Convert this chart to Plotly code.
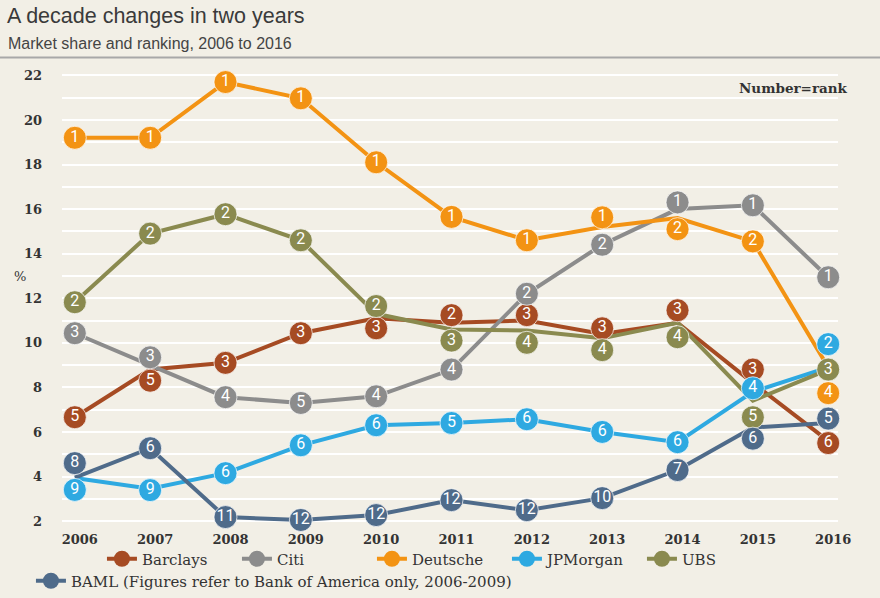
import plotly.graph_objects as go

years = [2006, 2007, 2008, 2009, 2010, 2011, 2012, 2013, 2014, 2015, 2016]

# Market share (%) - line values
barclays_share = [6.66, 8.8, 9.1, 10.43, 11.1, 10.9, 11.0, 10.4, 10.9, 8.2, 5.6]
citi_share = [10.43, 9.0, 7.56, 7.3, 7.6, 8.8, 12.2, 14.4, 16.0, 16.17, 12.94]
deutsche_share = [19.2, 19.2, 21.7, 20.97, 18.1, 15.65, 14.6, 15.2, 15.6, 14.55, 8.9]
jpmorgan_share = [3.93, 3.45, 4.15, 5.4, 6.3, 6.4, 6.57, 6.0, 5.54, 7.8, 8.9]
ubs_share = [11.82, 14.9, 15.77, 14.6, 11.3, 10.6, 10.55, 10.2, 10.9, 7.4, 8.8]
baml_share = [3.95, 5.27, 2.18, 2.05, 2.27, 2.94, 2.49, 3.03, 4.29, 6.2, 6.4]

# Where the rank badges sit (nudged apart where lines overlap)
barclays_badge = [6.66, 8.3, 9.1, 10.43, 10.65, 11.24, 11.24, 10.65, 11.46, 8.8, 5.5]
citi_badge = [10.43, 9.35, 7.56, 7.3, 7.6, 8.8, 12.2, 14.4, 16.3, 16.17, 12.94]
deutsche_badge = [19.2, 19.2, 21.7, 20.97, 18.1, 15.65, 14.6, 15.63, 15.1, 14.55, 7.74]
jpmorgan_badge = [3.4, 3.39, 4.15, 5.4, 6.3, 6.4, 6.57, 6.0, 5.54, 7.96, 9.94]
ubs_badge = [11.82, 14.9, 15.77, 14.6, 11.65, 10.1, 10.0, 9.67, 10.25, 6.66, 8.8]
baml_badge = [4.6, 5.27, 2.18, 2.05, 2.27, 2.94, 2.49, 3.03, 4.29, 5.7, 6.6]

# Rankings
barclays_rank = [5, 5, 3, 3, 3, 2, 3, 3, 3, 3, 6]
citi_rank = [3, 3, 4, 5, 4, 4, 2, 2, 1, 1, 1]
deutsche_rank = [1, 1, 1, 1, 1, 1, 1, 1, 2, 2, 4]
jpmorgan_rank = [9, 9, 6, 6, 6, 5, 6, 6, 6, 4, 2]
ubs_rank = [2, 2, 2, 2, 2, 3, 4, 4, 4, 5, 3]
baml_rank = [8, 6, 11, 12, 12, 12, 12, 10, 7, 6, 5]

names = ["Barclays", "Citi", "Deutsche", "JPMorgan", "UBS",
         "BAML (Figures refer to Bank of America only, 2006-2009)"]
colors = ["#A64B23", "#8C8C8C", "#F39313", "#2EA9E1", "#8A8A4F", "#4F6B8A"]
shares = [barclays_share, citi_share, deutsche_share, jpmorgan_share, ubs_share, baml_share]
badges = [barclays_badge, citi_badge, deutsche_badge, jpmorgan_badge, ubs_badge, baml_badge]
ranks = [barclays_rank, citi_rank, deutsche_rank, jpmorgan_rank, ubs_rank, baml_rank]

BG = "#F2EFE6"
SERIF = "DejaVu Serif, Liberation Serif, serif"
SANS = "Liberation Sans, Arial, sans-serif"
NARROW = "Liberation Sans Narrow, Roboto, Liberation Sans, sans-serif"

fig = go.Figure()

# lines
for name, col, s in zip(names, colors, shares):
    fig.add_trace(go.Scatter(x=years, y=s, mode="lines", line=dict(color=col, width=4),
                             showlegend=False, hoverinfo="skip"))

# rank badges
for name, col, b, r in zip(names, colors, badges, ranks):
    fig.add_trace(go.Scatter(x=years, y=b, mode="markers+text", text=[str(v) for v in r],
                             textposition="middle center",
                             textfont=dict(family=NARROW, size=16, color="white"),
                             marker=dict(color=col, size=23,
                                         line=dict(color="rgba(255,255,255,0.7)", width=1)),
                             cliponaxis=False, showlegend=False, name=name))

# legend entries
for i, (name, col) in enumerate(zip(names, colors)):
    fig.add_trace(go.Scatter(x=[None], y=[None], mode="lines+markers", name=name,
                             line=dict(color=col, width=4),
                             marker=dict(color=col, size=20),
                             legend="legend2" if i == 5 else "legend"))

fig.update_layout(
    width=880, height=598,
    paper_bgcolor=BG, plot_bgcolor=BG,
    margin=dict(l=62, r=42, t=62, b=68, autoexpand=False),
    xaxis=dict(range=[2005.83, 2016.13], tickvals=years, showgrid=False, zeroline=False,
               showline=False, ticks="", ticklabelshift=5,
               tickfont=dict(family=SERIF, size=13, color="#333333", weight="bold")),
    yaxis=dict(range=[1.6, 22.6], tickvals=[2, 4, 6, 8, 10, 12, 14, 16, 18, 20, 22],
               showgrid=True, gridcolor="white", gridwidth=2, zeroline=False, showline=False,
               ticks="", ticklabelstandoff=19,
               minor=dict(dtick=1, tick0=0, showgrid=True, gridcolor="white", gridwidth=2),
               tickfont=dict(family=SERIF, size=13, color="#333333", weight="bold")),
    legend=dict(orientation="h", x=0.0515, xanchor="left", y=-0.062, yanchor="middle",
                entrywidth=90, entrywidthmode="pixels",
                bgcolor="rgba(0,0,0,0)", font=dict(family=SERIF, size=15, color="#333333")),
    legend2=dict(orientation="h", x=-0.040, xanchor="left", y=-0.109, yanchor="middle",
                 bgcolor="rgba(0,0,0,0)", font=dict(family=SERIF, size=15, color="#333333")),
    annotations=[
        dict(text="A decade changes in two years", xref="paper", yref="paper",
             x=-0.0735, y=1.0983, xanchor="left", yanchor="middle", showarrow=False,
             font=dict(family=SANS, size=21.5, color="#3a3a3a")),
        dict(text="Market share and ranking, 2006 to 2016", xref="paper", yref="paper",
             x=-0.072, y=1.0385, xanchor="left", yanchor="middle", showarrow=False,
             font=dict(family=SANS, size=16, color="#444444")),
        dict(text="%", xref="paper", yref="paper", x=-0.054, y=0.5406, xanchor="center",
             yanchor="middle", showarrow=False, font=dict(family=SERIF, size=13, color="#333333")),
        dict(text="Number=rank", xref="paper", yref="paper", x=1.0155, y=0.9436,
             xanchor="right", yanchor="middle", showarrow=False,
             font=dict(family=SERIF, size=13.5, color="#333333", weight="bold")),
    ],
    shapes=[dict(type="line", xref="paper", yref="paper", x0=-0.08, x1=1.06,
                 y0=1.0096, y1=1.0096, line=dict(color="#A8A8A8", width=2))],
)

fig.write_html("out.html", config={"displayModeBar": False},
               post_script="document.body.style.margin='0';document.body.style.background='%s';" % BG)
